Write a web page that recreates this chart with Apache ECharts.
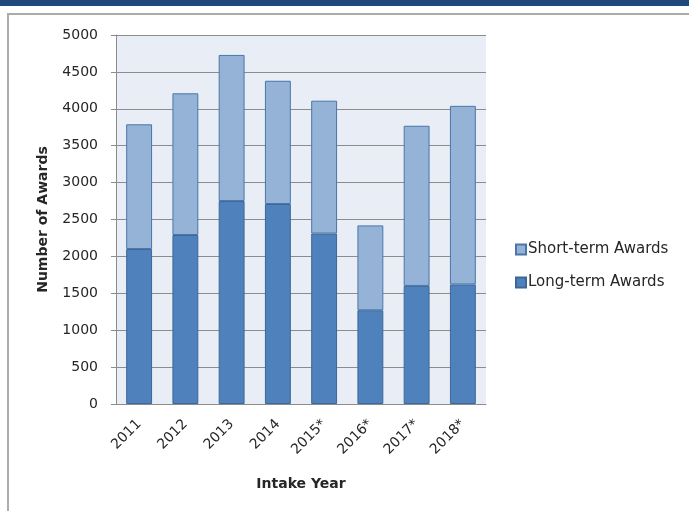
<!DOCTYPE html>
<html>
<head>
<meta charset="utf-8">
<script src="https://cdn.jsdelivr.net/npm/echarts@6/dist/echarts.min.js"></script>
<style>
  html, body { margin: 0; padding: 0; background: #ffffff; }
  #topband { position: absolute; left: 0; top: 0; width: 689px; height: 6px; background: #1F497D; }
  #frame { position: absolute; left: 7px; top: 13px; width: 700px; height: 520px; border: 2px solid #ABABAB; box-sizing: border-box; }
  #chart { position: absolute; left: 0; top: 0; width: 689px; height: 511px; }
</style>
</head>
<body>
<div id="topband"></div>
<div id="frame"></div>
<div id="chart"></div>
<script>
const categories = ['2011', '2012', '2013', '2014', '2015*', '2016*', '2017*', '2018*'];
const longTerm = [2100, 2290, 2750, 2710, 2310, 1270, 1600, 1620];
const shortTerm = [1690, 1920, 1980, 1670, 1800, 1150, 2170, 2420];
const yTicks = { min: 0, max: 5000, interval: 500 };

const FONT = 'DejaVu Sans';
const chart = echarts.init(document.getElementById('chart'), null, { renderer: 'canvas' });
chart.setOption({
  animation: false,
  backgroundColor: 'transparent',
  grid: {
    left: 116, right: 203, top: 35, bottom: 107,
    show: true, backgroundColor: '#E9EDF6', borderWidth: 0
  },
  legend: {
    orient: 'vertical',
    left: 510, top: 237,
    itemWidth: 10, itemHeight: 10,
    itemGap: 18,
    icon: 'rect',
    data: ['Short-term Awards', 'Long-term Awards'],
    textStyle: { fontFamily: FONT, fontSize: 15, color: '#262626', padding: [0, 0, 0, -3] }
  },
  xAxis: {
    type: 'category',
    data: categories,
    name: 'Intake Year',
    nameLocation: 'middle',
    nameGap: 73,
    nameTextStyle: { fontFamily: FONT, fontSize: 14, fontWeight: 'bold', color: '#262626' },
    axisLine: { show: true, lineStyle: { color: '#8C8C8C', width: 1 } },
    axisTick: { show: false },
    axisLabel: { rotate: 45, margin: 18, fontFamily: FONT, fontSize: 14, color: '#262626' },
    splitLine: { show: false }
  },
  yAxis: {
    type: 'value',
    min: yTicks.min, max: yTicks.max, interval: yTicks.interval,
    name: 'Number of Awards',
    nameLocation: 'middle',
    nameGap: 66,
    nameTextStyle: { fontFamily: FONT, fontSize: 14, fontWeight: 'bold', color: '#262626' },
    axisLine: { show: true, lineStyle: { color: '#8C8C8C', width: 1 } },
    axisTick: { show: true, length: 5, lineStyle: { color: '#8C8C8C' } },
    axisLabel: { margin: 18, fontFamily: FONT, fontSize: 14, color: '#262626', formatter: function (v) { return String(v); } },
    splitLine: { show: true, lineStyle: { color: '#8C8C8C', width: 1 } }
  },
  series: [
    {
      name: 'Long-term Awards', type: 'bar', stack: 'total',
      data: longTerm,
      barCategoryGap: '44%',
      itemStyle: { color: '#4F81BD', borderColor: '#3A6898', borderWidth: 1 }
    },
    {
      name: 'Short-term Awards', type: 'bar', stack: 'total',
      data: shortTerm,
      barCategoryGap: '44%',
      itemStyle: { color: '#95B3D7', borderColor: '#4A76A8', borderWidth: 1 }
    }
  ]
});
</script>
</body>
</html>
